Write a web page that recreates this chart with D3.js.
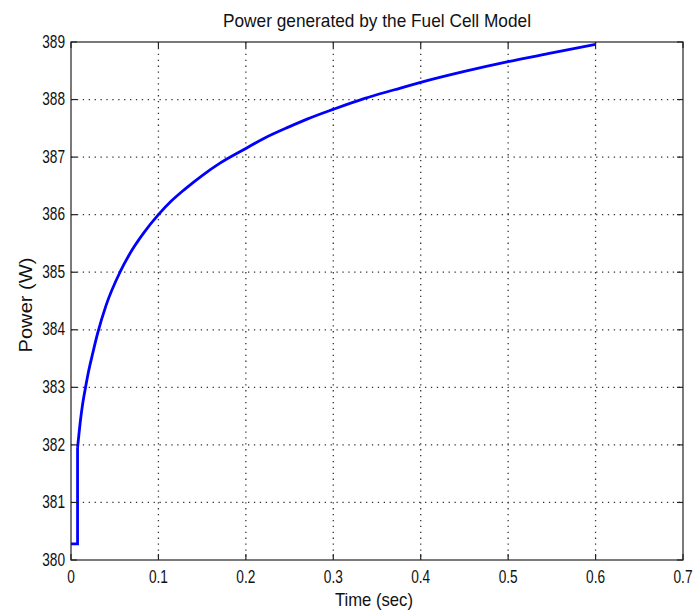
<!DOCTYPE html>
<html>
<head>
<meta charset="utf-8">
<script src="https://cdn.jsdelivr.net/npm/d3@7"></script>
<style>
  body { margin: 0; background: #fff; }
  text { font-family: 'Liberation Sans', Arial, sans-serif; fill: #111; }
</style>
</head>
<body>
<div id="chartArea"></div>
<script>
// values
const stepTime = [0, 0.0075, 0.0075]
const stepPower = [380.28, 380.28, 381.95]

const curveTime = [0.0075, 0.0085, 0.011, 0.0135, 0.017, 0.02, 0.025, 0.0305, 0.04, 0.056, 0.07, 0.083,
  0.1, 0.115, 0.13, 0.15, 0.17, 0.2, 0.22, 0.25, 0.27, 0.3, 0.336, 0.37, 0.4, 0.45, 0.5, 0.55, 0.6]
const curvePower = [381.95, 382.1, 382.45, 382.73, 383.03, 383.27, 383.6, 383.94, 384.42, 385.0, 385.39, 385.68,
  386.0, 386.24, 386.44, 386.68, 386.89, 387.15, 387.32, 387.53, 387.66, 387.83, 388.02, 388.17, 388.3,
  388.49, 388.66, 388.81, 388.96]

const xTicks = [0, 0.1, 0.2, 0.3, 0.4, 0.5, 0.6, 0.7]
const yTicks = [380, 381, 382, 383, 384, 385, 386, 387, 388, 389]

const titleText = 'Power generated by the Fuel Cell Model'
const xLabel = 'Time (sec)'
const yLabel = 'Power (W)'

const width = 694
const height = 614
const margin = { top: 42, right: 11, bottom: 54, left: 71 }
const innerWidth = width - margin.left - margin.right
const innerHeight = height - margin.top - margin.bottom
const tickLen = 6
const squeeze = 0.72 // the tick font in the picture is narrow

const svg = d3.select('#chartArea')
  .append('svg')
  .attr('width', width)
  .attr('height', height)

const xScale = d3.scaleLinear().domain([0, 0.7]).range([0, innerWidth])
const yScale = d3.scaleLinear().domain([380, 389]).range([innerHeight, 0])

const plotG = svg.append('g')
  .attr('transform', `translate(${margin.left},${margin.top})`)

//
// dotted grid
//
plotG.append('g')
  .selectAll('line')
  .data(xTicks.slice(1, -1))
  .join('line')
  .attr('x1', d => xScale(d)).attr('x2', d => xScale(d))
  .attr('y1', 0).attr('y2', innerHeight)
  .attr('stroke', '#333')
  .attr('stroke-width', 1.3)
  .attr('stroke-dasharray', '1.3,4.6')

plotG.append('g')
  .selectAll('line')
  .data(yTicks.slice(1, -1))
  .join('line')
  .attr('y1', d => yScale(d)).attr('y2', d => yScale(d))
  .attr('x1', 0).attr('x2', innerWidth)
  .attr('stroke', '#333')
  .attr('stroke-width', 1.3)
  .attr('stroke-dasharray', '1.3,4.6')

//
// power line
//
const stepData = stepTime.map((t, i) => ({ t: t, p: stepPower[i] }))
const curveData = curveTime.map((t, i) => ({ t: t, p: curvePower[i] }))

plotG.append('path')
  .datum(stepData)
  .attr('fill', 'none')
  .attr('stroke', '#0000ff')
  .attr('stroke-width', 2.8)
  .attr('stroke-linejoin', 'miter')
  .attr('d', d3.line().x(d => xScale(d.t)).y(d => yScale(d.p)))

plotG.append('path')
  .datum(curveData)
  .attr('fill', 'none')
  .attr('stroke', '#0000ff')
  .attr('stroke-width', 2.8)
  .attr('stroke-linejoin', 'round')
  .attr('d', d3.line().x(d => xScale(d.t)).y(d => yScale(d.p)).curve(d3.curveMonotoneX))

//
// box and inward ticks
//
plotG.append('rect')
  .attr('width', innerWidth)
  .attr('height', innerHeight)
  .attr('fill', 'none')
  .attr('stroke', '#222')
  .attr('stroke-width', 1.2)

const tickG = plotG.append('g').attr('stroke', '#222').attr('stroke-width', 1.2)
xTicks.forEach(d => {
  tickG.append('line').attr('x1', xScale(d)).attr('x2', xScale(d)).attr('y1', innerHeight).attr('y2', innerHeight - tickLen)
  tickG.append('line').attr('x1', xScale(d)).attr('x2', xScale(d)).attr('y1', 0).attr('y2', tickLen)
})
yTicks.forEach(d => {
  tickG.append('line').attr('y1', yScale(d)).attr('y2', yScale(d)).attr('x1', 0).attr('x2', tickLen)
  tickG.append('line').attr('y1', yScale(d)).attr('y2', yScale(d)).attr('x1', innerWidth).attr('x2', innerWidth - tickLen)
})

// narrow the glyphs like the original figure
const narrow = function () {
  this.setAttribute('textLength', this.getComputedTextLength() * squeeze)
  this.setAttribute('lengthAdjust', 'spacingAndGlyphs')
}

//
// tick labels
//
plotG.append('g')
  .selectAll('text')
  .data(xTicks)
  .join('text')
  .attr('x', d => xScale(d))
  .attr('y', innerHeight + 23)
  .attr('text-anchor', 'middle')
  .attr('font-size', 19)
  .text(d => d)
  .each(narrow)

plotG.append('g')
  .selectAll('text')
  .data(yTicks)
  .join('text')
  .attr('x', -6)
  .attr('y', d => yScale(d))
  .attr('text-anchor', 'end')
  .attr('dy', '0.3em')
  .attr('font-size', 19)
  .text(d => d)
  .each(narrow)

//
// title and axis labels
//
svg.append('text')
  .attr('x', margin.left + innerWidth / 2)
  .attr('y', 27)
  .attr('text-anchor', 'middle')
  .attr('font-size', 19)
  .attr('textLength', 308)
  .attr('lengthAdjust', 'spacingAndGlyphs')
  .text(titleText)

svg.append('text')
  .attr('x', 374)
  .attr('y', 606)
  .attr('text-anchor', 'middle')
  .attr('font-size', 19)
  .attr('textLength', 78)
  .attr('lengthAdjust', 'spacingAndGlyphs')
  .text(xLabel)

svg.append('text')
  .attr('transform', 'translate(32,305) rotate(-90)')
  .attr('text-anchor', 'middle')
  .attr('font-size', 19)
  .attr('textLength', 95)
  .attr('lengthAdjust', 'spacingAndGlyphs')
  .text(yLabel)
</script>
</body>
</html>
